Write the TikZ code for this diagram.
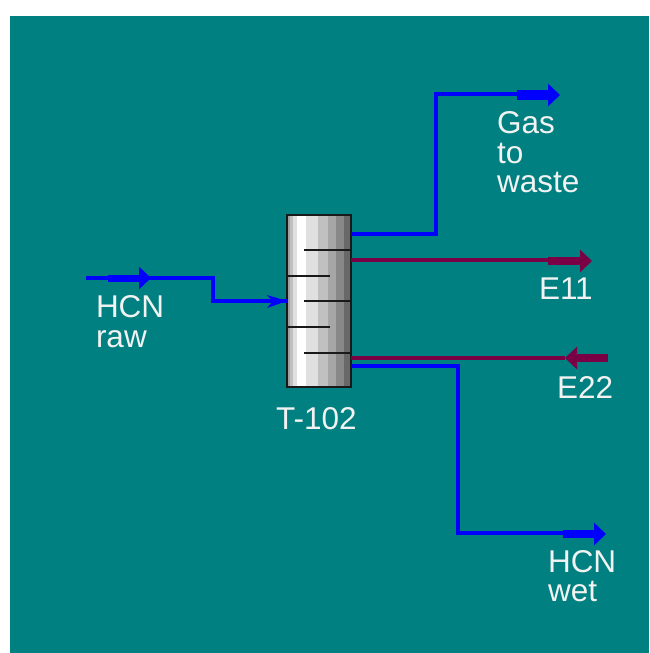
\documentclass[tikz,border=0pt]{standalone}
\usepackage{fontspec}
\setmainfont{Liberation Sans}
\usetikzlibrary{arrows.meta}
\definecolor{teal0}{HTML}{008080}
\definecolor{bluestream}{HTML}{0000FF}
\definecolor{energy}{HTML}{7A0045}
\tikzset{
  x=1pt,y=-1pt,
  stream/.style={draw=bluestream,line width=3.6pt,line join=miter},
  estream/.style={draw=energy,line width=3.6pt},
  bigtip/.style={line width=#1,-{Triangle[length=12pt,width=22pt]}},
  bluebig/.style={draw=bluestream,bigtip=#1},
  redbig/.style={draw=energy,bigtip=#1},
  label/.style={text=white!95!black,font=\fontsize{31.5}{29.5}\selectfont,align=left,anchor=north west,inner sep=0pt,outer sep=0pt},
  column/.style={draw=black!90,line width=2.4pt,minimum width=64pt,minimum height=172pt,inner sep=0pt,outer sep=0pt},
  tray/.style={draw=black!90,line width=2pt},
}
\begin{document}
\begin{tikzpicture}
\useasboundingbox (0,0) rectangle (649,653);
\fill[white] (0,0) rectangle (649,653);
\fill[teal0] (10,16) rectangle (649,653);
% column bands
\foreach \a/\b/\c in {287/290/A0A0A0,290/293/C0C0C0,293/297/E0E0E0,297/306/FFFFFF,306/318/E0E0E0,318/328/C0C0C0,328/336/A6A6A6,336/344/888888,344/351/686868}{
  \definecolor{bandc}{HTML}{\c}
  \fill[bandc] (\a,215) rectangle (\b,387);
}
\node[column] (col) at (319,301) {};
% trays
\coordinate (t1a) at (304,249.5); \coordinate (t1b) at (col.east |- t1a);
\coordinate (t2a) at (col.west |- 0,275.5); \coordinate (t2b) at (330,275.5);
\coordinate (t3a) at (304,301); \coordinate (t3b) at (col.east |- t3a);
\coordinate (t4a) at (col.west |- 0,327); \coordinate (t4b) at (330,327);
\coordinate (t5a) at (304,353); \coordinate (t5b) at (col.east |- t5a);
\draw[tray] (t1a) -- (t1b);
\draw[tray] (t2a) -- (t2b);
\draw[tray] (t3a) -- (t3b);
\draw[tray] (t4a) -- (t4b);
\draw[tray] (t5a) -- (t5b);
% HCN raw
\coordinate (rawS) at (86,278);
\coordinate (rawT) at (108,278);
\coordinate (rawH) at (151,278);
\coordinate (rawE) at (col.west |- 0,301);
\draw[stream] (rawS) -- (213,278) -- (213,301) -- (rawE);
\draw[bluebig=7pt] (rawT) -- (rawH);
\fill[bluestream] (rawE) -- (267,295) -- (273,301) -- (267,308) -- cycle;
% Gas
\coordinate (gasS) at (col.east |- 0,234);
\coordinate (gasT) at (517,95);
\coordinate (gasH) at (560,95);
\draw[stream] (gasS) -- (436,234) -- (436,94) -- (gasT |- 0,94);
\draw[bluebig=10pt] (gasT) -- (gasH);
% E11
\coordinate (e1S) at (col.east |- 0,260);
\coordinate (e1T) at (548,261);
\coordinate (e1H) at (592,261);
\draw[estream] (e1S) -- (e1T |- 0,260);
\draw[redbig=8pt] (e1T) -- (e1H);
% E22
\coordinate (e2S) at (col.east |- 0,358);
\coordinate (e2T) at (608,358);
\coordinate (e2H) at (565,358);
\draw[estream] (e2S) -- (e2H);
\draw[redbig=8pt] (e2T) -- (e2H);
% HCN wet
\coordinate (wetS) at (col.east |- 0,366);
\coordinate (wetT) at (563,534);
\coordinate (wetH) at (606,534);
\draw[stream] (wetS) -- (458,366) -- (458,533) -- (wetT |- 0,533);
\draw[bluebig=8pt] (wetT) -- (wetH);
% labels
\node[label] (lraw) at (96,296) {HCN\\raw};
\node[label] (lgas) at (497,112) {Gas\\to\\waste};
\node[label] (le11) at (539,278) {E11};
\node[label] (le22) at (557,377) {E22};
\node[label] (lwet) at (548,550) {HCN\\wet};
\node[label] (lcol) at (276,407) {T-102};
\end{tikzpicture}
\end{document}
